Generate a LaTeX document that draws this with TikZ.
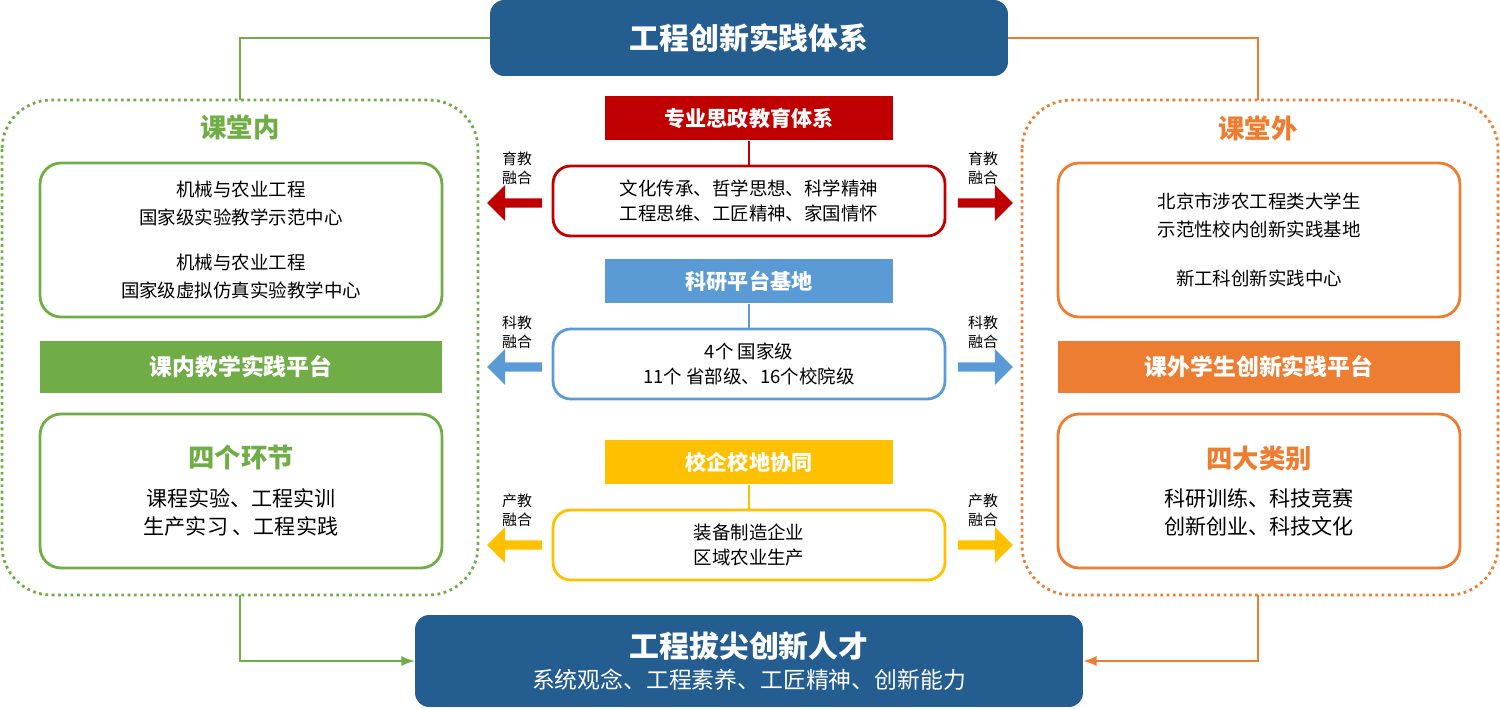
\documentclass[tikz,border=0pt]{standalone}
\usepackage{fontspec}
\setmainfont{Noto Sans CJK SC}
\usetikzlibrary{shapes.arrows}
\definecolor{dkblue}{HTML}{245D8F}
\definecolor{grn}{HTML}{70AD47}
\definecolor{org}{HTML}{ED7D31}
\definecolor{rd}{HTML}{C00000}
\definecolor{lblue}{HTML}{5B9BD5}
\definecolor{yel}{HTML}{FFC000}
\tikzset{
  px/.style={x=0.02cm,y=-0.02cm},
  main/.style={fill=dkblue,rounded corners=8pt,text=white,font=\bfseries\fontsize{17}{20}\selectfont,align=center},
  frame/.style={draw=#1,line width=1.6pt,dotted,rounded corners=28pt},
  card/.style={draw=#1,line width=1.6pt,rounded corners=12pt,minimum width=8.04cm,minimum height=3.08cm,align=center,font=\fontsize{10.5}{16}\selectfont},
  band/.style={fill=#1,text=white,minimum width=8.04cm,minimum height=1.04cm,font=\bfseries\fontsize{13}{15}\selectfont},
  head/.style={fill=#1,text=white,minimum width=5.76cm,minimum height=0.9cm,font=\bfseries\fontsize{12}{14}\selectfont},
  mid/.style={draw=#1,line width=1.6pt,fill=white,rounded corners=10pt,minimum width=7.84cm,minimum height=1.4cm,align=center,font=\fontsize{10.5}{14}\selectfont},
  arr/.style={single arrow,fill=#1,minimum height=1.1cm,minimum width=0.72cm,single arrow head extend=0.12cm,inner sep=1pt},
  lab/.style={align=center,font=\fontsize{8.5}{11}\selectfont},
  link/.style={draw=#1,line width=1.6pt},
  ttl/.style={text=#1,font=\bfseries\fontsize{15}{18}\selectfont}
}
\begin{document}
\begin{tikzpicture}[px]
\useasboundingbox (0,0) rectangle (1500,709);
% frames
\draw[frame=grn] (2,100) rectangle (478,595);
\draw[frame=org] (1022,100) rectangle (1498,595);
\node[main,minimum width=10.36cm,minimum height=1.52cm] (top) at (749,38) {工程创新实践体系};
\node[main,minimum width=13.36cm,minimum height=1.84cm,font=\fontsize{13}{18}\selectfont] (bot) at (749,661)
  {{\bfseries\fontsize{17}{20}\selectfont 工程拔尖创新人才}\\系统观念、工程素养、工匠精神、创新能力};
\coordinate (gt) at (240,100); \coordinate (ot) at (1258,100);
\coordinate (gb) at (240,595); \coordinate (ob) at (1258,595);
\draw[link=grn] (top.west) -| (gt);
\draw[link=org] (top.east) -| (ot);
\draw[link=grn,-latex] (gb) |- (bot.west);
\draw[link=org,-latex] (ob) |- (bot.east);
% left side
\node[ttl=grn] (in) at (240,128) {课堂内};
\node[card=grn] (l1) at (241,240) {机械与农业工程\\国家级实验教学示范中心\\[10pt]机械与农业工程\\国家级虚拟仿真实验教学中心};
\node[band=grn] (l2) at (241,367) {课内教学实践平台};
\node[card=grn,font=\fontsize{12}{16}\selectfont] (l3) at (241,491) {{\color{grn}\bfseries\fontsize{15}{18}\selectfont 四个环节}\\[6pt]课程实验、工程实训\\生产实习\ 、工程实践};
% right side
\node[ttl=org] (out) at (1258,128) {课堂外};
\node[card=org] (r1) at (1259,240) {北京市涉农工程类大学生\\示范性校内创新实践基地\\[12pt]新工科创新实践中心};
\node[band=org] (r2) at (1259,367) {课外学生创新实践平台};
\node[card=org,font=\fontsize{12}{16}\selectfont] (r3) at (1259,491) {{\color{org}\bfseries\fontsize{15}{18}\selectfont 四大类别}\\[6pt]科研训练、科技竞赛\\创新创业、科技文化};
% centre
\node[head=rd] (h1) at (749,118) {专业思政教育体系};
\node[mid=rd] (m1) at (749,201) {文化传承、哲学思想、科学精神\\工程思维、工匠精神、家国情怀};
\node[head=lblue] (h2) at (749,281) {科研平台基地};
\node[mid=lblue] (m2) at (749,364) {4个 国家级\\11个 省部级、16个校院级};
\node[head=yel] (h3) at (749,462) {校企校地协同};
\node[mid=yel] (m3) at (749,545) {装备制造企业\\区域农业生产};
\draw[link=rd] (h1) -- (m1);
\draw[link=lblue] (h2) -- (m2);
\draw[link=yel] (h3) -- (m3);
\foreach \n/\c/\y/\t in {1/rd/203/育教, 2/lblue/367/科教, 3/yel/545/产教}{
  \node[arr=\c,shape border rotate=180] (al\n) at (517,\y) {};
  \node[arr=\c] (ar\n) at (983,\y) {};
  \node[lab,above=4pt] (tl\n) at (al\n.north) {\t\\融合};
  \node[lab,above=4pt] (tr\n) at (ar\n.north) {\t\\融合};
}
\end{tikzpicture}
\end{document}
